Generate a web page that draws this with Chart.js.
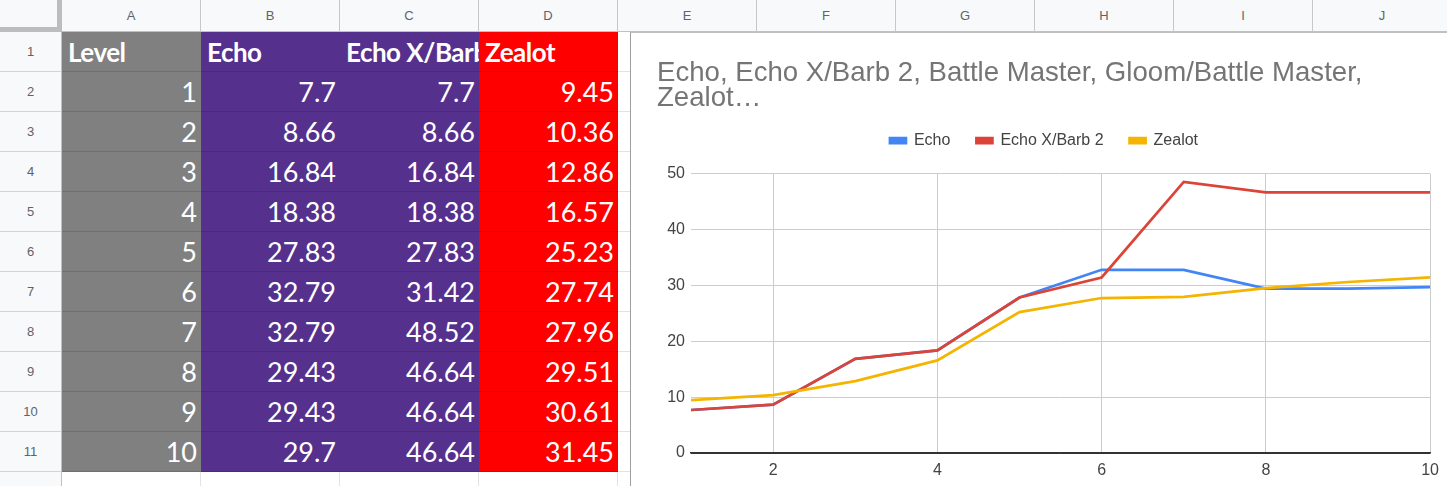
<!DOCTYPE html>
<html>
<head>
<meta charset="utf-8">
<script src="https://cdn.jsdelivr.net/npm/chart.js@4.4.0/dist/chart.umd.min.js"></script>
<style>
  html, body { margin: 0; padding: 0; width: 1447px; height: 486px; overflow: hidden; background: #fff; }
  #sheet { position: absolute; left: 0; top: 0; width: 1447px; height: 486px; font-family: Arial, "Liberation Sans", sans-serif; }
  .cell { position: absolute; box-sizing: border-box; border-right: 1px solid #e2e2e2; border-bottom: 1px solid #e2e2e2; }
  .colhead { position: absolute; top: 0; height: 32px; box-sizing: border-box; background: #f8f9fa; border-right: 1px solid #c7c7c7; border-bottom: 1px solid #c0c0c0; text-align: center; line-height: 32px; font-size: 13px; color: #5f6368; }
  .rowhead { position: absolute; left: 0; width: 62px; height: 40px; box-sizing: border-box; background: #f8f9fa; border-right: 1px solid #c0c0c0; border-bottom: 1px solid #d4d4d4; text-align: center; line-height: 40px; font-size: 13px; color: #5f6368; }
  .corner { position: absolute; left: 0; top: 0; width: 62px; height: 32px; box-sizing: border-box; background: #f8f9fa; border-right: 5px solid #bdbdbd; border-bottom: 5px solid #bdbdbd; }
  .data { position: absolute; height: 40px; box-sizing: border-box; border-bottom: 1px solid rgba(0,0,0,0.12); color: #fff; font-family: Lato, "Open Sans", sans-serif; font-size: 27px; line-height: 40px; overflow: hidden; white-space: nowrap; }
  .num { text-align: right; padding-right: 4px; }
  .hdr { text-align: left; padding-left: 6px; font-weight: bold; font-size: 26px; letter-spacing: -0.5px; }
  #chartBox { position: absolute; left: 630px; top: 32px; width: 817px; height: 454px; box-sizing: border-box; border-left: 1px solid #9e9e9e; border-top: 1px solid #c0c0c0; background: #fff; }
  #wrap { position: relative; width: 816px; height: 453px; }
</style>
</head>
<body>
<div id="sheet"></div>
<div id="chartBox"><div id="wrap"><canvas id="chart"></canvas></div></div>
<script>
// sheet data
const levels = [1, 2, 3, 4, 5, 6, 7, 8, 9, 10];
const echo = [7.7, 8.66, 16.84, 18.38, 27.83, 32.79, 32.79, 29.43, 29.43, 29.7];
const echoBarb = [7.7, 8.66, 16.84, 18.38, 27.83, 31.42, 48.52, 46.64, 46.64, 46.64];
const zealot = [9.45, 10.36, 12.86, 16.57, 25.23, 27.74, 27.96, 29.51, 30.61, 31.45];
const headers = ['Level', 'Echo', 'Echo X/Barb 2', 'Zealot'];
const colLetters = ['A', 'B', 'C', 'D', 'E', 'F', 'G', 'H', 'I', 'J'];
const xTicks = [2, 4, 6, 8, 10];
const chartTitle = ['Echo, Echo X/Barb 2, Battle Master, Gloom/Battle Master,', 'Zealot\u2026'];

// build the spreadsheet grid
const sheet = document.getElementById('sheet');
const colW = 139, rowH = 40, left0 = 62, top0 = 32;
const fills = ['#808080', '#55308d', '#55308d', '#ff0000'];

function add(cls, x, y, w, h, text) {
  const d = document.createElement('div');
  d.className = cls;
  d.style.left = x + 'px';
  d.style.top = y + 'px';
  if (w != null) d.style.width = w + 'px';
  if (h != null) d.style.height = h + 'px';
  if (text != null) d.textContent = text;
  sheet.appendChild(d);
  return d;
}

for (let r = 0; r < 12; r++) {
  for (let c = 0; c < colLetters.length; c++) {
    add('cell', left0 + c * colW, top0 + r * rowH, colW, rowH);
  }
}
add('corner', 0, 0);
colLetters.forEach((l, c) => add('colhead', left0 + c * colW, 0, colW, 32, l));
for (let r = 0; r < 12; r++) add('rowhead', 0, top0 + r * rowH, null, null, String(r + 1));

const cols = [levels, echo, echoBarb, zealot];
cols.forEach((vals, c) => {
  const h = add('data hdr', left0 + c * colW, top0, colW, rowH, headers[c]);
  h.style.background = fills[c];
  vals.forEach((v, i) => {
    const d = add('data num', left0 + c * colW, top0 + (i + 1) * rowH, colW, rowH, String(v));
    d.style.background = fills[c];
  });
});

// chart
const toPts = arr => arr.map((v, i) => ({ x: levels[i], y: v }));
const FONT = 'Arial, "Liberation Sans", sans-serif';

// extra room under the legend, like the sheets chart
const legendGap = {
  id: 'legendGap',
  beforeInit(chart) {
    const fit = chart.legend.fit;
    chart.legend.fit = function () {
      fit.bind(chart.legend)();
      this.height += 15;
    };
  }
};

new Chart(document.getElementById('chart'), {
  type: 'line',
  data: {
    datasets: [
      { label: 'Echo', data: toPts(echo), borderColor: '#4285f4', backgroundColor: '#4285f4', order: 3 },
      { label: 'Echo X/Barb 2', data: toPts(echoBarb), borderColor: '#db4437', backgroundColor: '#db4437', order: 2 },
      { label: 'Zealot', data: toPts(zealot), borderColor: '#f4b400', backgroundColor: '#f4b400', order: 1 }
    ]
  },
  options: {
    responsive: true,
    maintainAspectRatio: false,
    animation: false,
    layout: { padding: { left: 26, right: 16, top: 0, bottom: 0 } },
    elements: {
      line: { borderWidth: 2.7, tension: 0 },
      point: { radius: 0 }
    },
    plugins: {
      title: {
        display: true,
        text: chartTitle,
        align: 'start',
        color: '#757575',
        font: { family: FONT, size: 27.6, weight: 'normal', lineHeight: 0.9 },
        padding: { top: 28, bottom: -4 }
      },
      legend: {
        labels: {
          boxWidth: 16,
          boxHeight: 5,
          padding: 26,
          color: '#424242',
          font: { family: FONT, size: 16 },
          sort: (a, b) => a.datasetIndex - b.datasetIndex
        }
      },
      tooltip: { enabled: false }
    },
    scales: {
      x: {
        type: 'linear',
        min: 1,
        max: 10,
        afterBuildTicks: axis => { axis.ticks = xTicks.map(v => ({ value: v })); },
        afterFit: scale => { scale.height = 33; },
        grid: { color: '#cccccc', drawTicks: false },
        border: { color: '#333', width: 1.5 },
        ticks: { color: '#444', padding: 8, maxRotation: 0, font: { family: FONT, size: 16 } }
      },
      y: {
        min: 0,
        max: 50,
        afterFit: scale => { scale.width = 34; },
        grid: { color: ctx => (ctx.tick && ctx.tick.value === 0 ? '#333' : '#cccccc'), drawTicks: false },
        border: { display: false },
        ticks: { stepSize: 10, color: '#444', padding: 6, font: { family: FONT, size: 16 } }
      }
    }
  },
  plugins: [legendGap]
});
</script>
</body>
</html>
